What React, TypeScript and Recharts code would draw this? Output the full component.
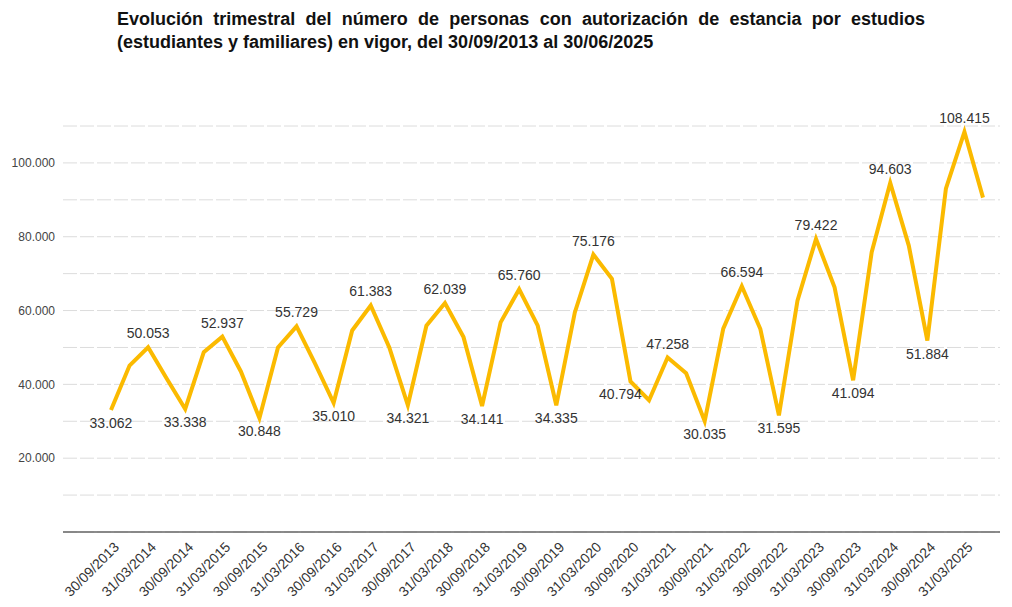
import { LineChart, Line, XAxis, YAxis, CartesianGrid } from 'recharts';

// Fechas trimestrales (30/09/2013 - 30/06/2025)
const quarters = [
  '30/09/2013', '31/12/2013', '31/03/2014', '30/06/2014',
  '30/09/2014', '31/12/2014', '31/03/2015', '30/06/2015',
  '30/09/2015', '31/12/2015', '31/03/2016', '30/06/2016',
  '30/09/2016', '31/12/2016', '31/03/2017', '30/06/2017',
  '30/09/2017', '31/12/2017', '31/03/2018', '30/06/2018',
  '30/09/2018', '31/12/2018', '31/03/2019', '30/06/2019',
  '30/09/2019', '31/12/2019', '31/03/2020', '30/06/2020',
  '30/09/2020', '31/12/2020', '31/03/2021', '30/06/2021',
  '30/09/2021', '31/12/2021', '31/03/2022', '30/06/2022',
  '30/09/2022', '31/12/2022', '31/03/2023', '30/06/2023',
  '30/09/2023', '31/12/2023', '31/03/2024', '30/06/2024',
  '30/09/2024', '31/12/2024', '31/03/2025', '30/06/2025',
];

// Personas con autorización de estancia por estudios
const personas = [
  33062, 45100, 50053, 41600,
  33338, 48700, 52937, 43500,
  30848, 50000, 55729, 45600,
  35010, 54600, 61383, 50000,
  34321, 55900, 62039, 52800,
  34141, 56800, 65760, 55900,
  34335, 59500, 75176, 68600,
  40794, 35700, 47258, 43000,
  30035, 55100, 66594, 55000,
  31595, 62700, 79422, 66300,
  41094, 75800, 94603, 77600,
  51884, 93000, 108415, 90600,
];

const yTicks = [0, 10000, 20000, 30000, 40000, 50000, 60000, 70000, 80000, 90000, 100000, 110000];

const data = quarters.map((q, i) => ({ fecha: q, valor: personas[i] }));

const FONT = '"Liberation Sans", Arial, sans-serif';

const fmt = (v: number) => v.toString().replace(/\B(?=(\d{3})+(?!\d))/g, '.');

const XTick = ({ x, y, payload }: any) => (
  <g transform={`translate(${x + 9},${y + 8})`}>
    <text textAnchor="end" transform="rotate(-45)" fontSize={14} fill="#333" fontFamily={FONT}>
      {payload.value}
    </text>
  </g>
);

const ValueLabel = ({ x, y, index, value }: any) => {
  // solo se rotulan los trimestres de marzo y septiembre
  if (index % 2 !== 0) return null;
  const isPeak = index % 4 === 2;
  let dx = 0;
  if (index === 28) dx = -10;
  return (
    <text
      x={x + dx}
      y={isPeak ? y - 9 : y + 18}
      textAnchor="middle"
      fontSize={14}
      fill="#333"
      fontFamily={FONT}
    >
      {fmt(value)}
    </text>
  );
};

export default function App() {
  return (
    <div style={{ position: 'absolute', left: 0, top: 0, width: 1012, height: 607, background: '#fff' }}>
      <div
        style={{
          position: 'absolute',
          left: 117,
          top: 8,
          width: 808,
          fontFamily: FONT,
          fontWeight: 'bold',
          fontSize: 18,
          lineHeight: '23px',
          color: '#111',
        }}
      >
        <div style={{ textAlign: 'justify', textAlignLast: 'justify', whiteSpace: 'nowrap' }}>
          Evolución trimestral del número de personas con autorización de estancia por estudios
        </div>
        <div>(estudiantes y familiares) en vigor, del 30/09/2013 al 30/06/2025</div>
      </div>
      <LineChart
        width={1012}
        height={607}
        data={data}
        margin={{ top: 126, right: 12, bottom: 5, left: 0 }}
      >
        <CartesianGrid vertical={false} stroke="#dcdcdc" strokeDasharray="14 3" />
        <XAxis
          dataKey="fecha"
          interval={1}
          height={70}
          padding={{ left: 48, right: 17 }}
          tick={<XTick />}
          tickLine={false}
          axisLine={{ stroke: '#666', strokeWidth: 1.5 }}
        />
        <YAxis
          width={63}
          domain={[0, 110000]}
          ticks={yTicks}
          tickFormatter={(v: number) => (v > 0 && v % 20000 === 0 ? fmt(v) : '')}
          tick={{ fontSize: 12, fill: '#444', fontFamily: FONT }}
          tickLine={false}
          axisLine={false}
        />
        <Line
          type="linear"
          dataKey="valor"
          stroke="#FBBA00"
          strokeWidth={4}
          dot={false}
          isAnimationActive={false}
          label={<ValueLabel />}
        />
      </LineChart>
    </div>
  );
}
